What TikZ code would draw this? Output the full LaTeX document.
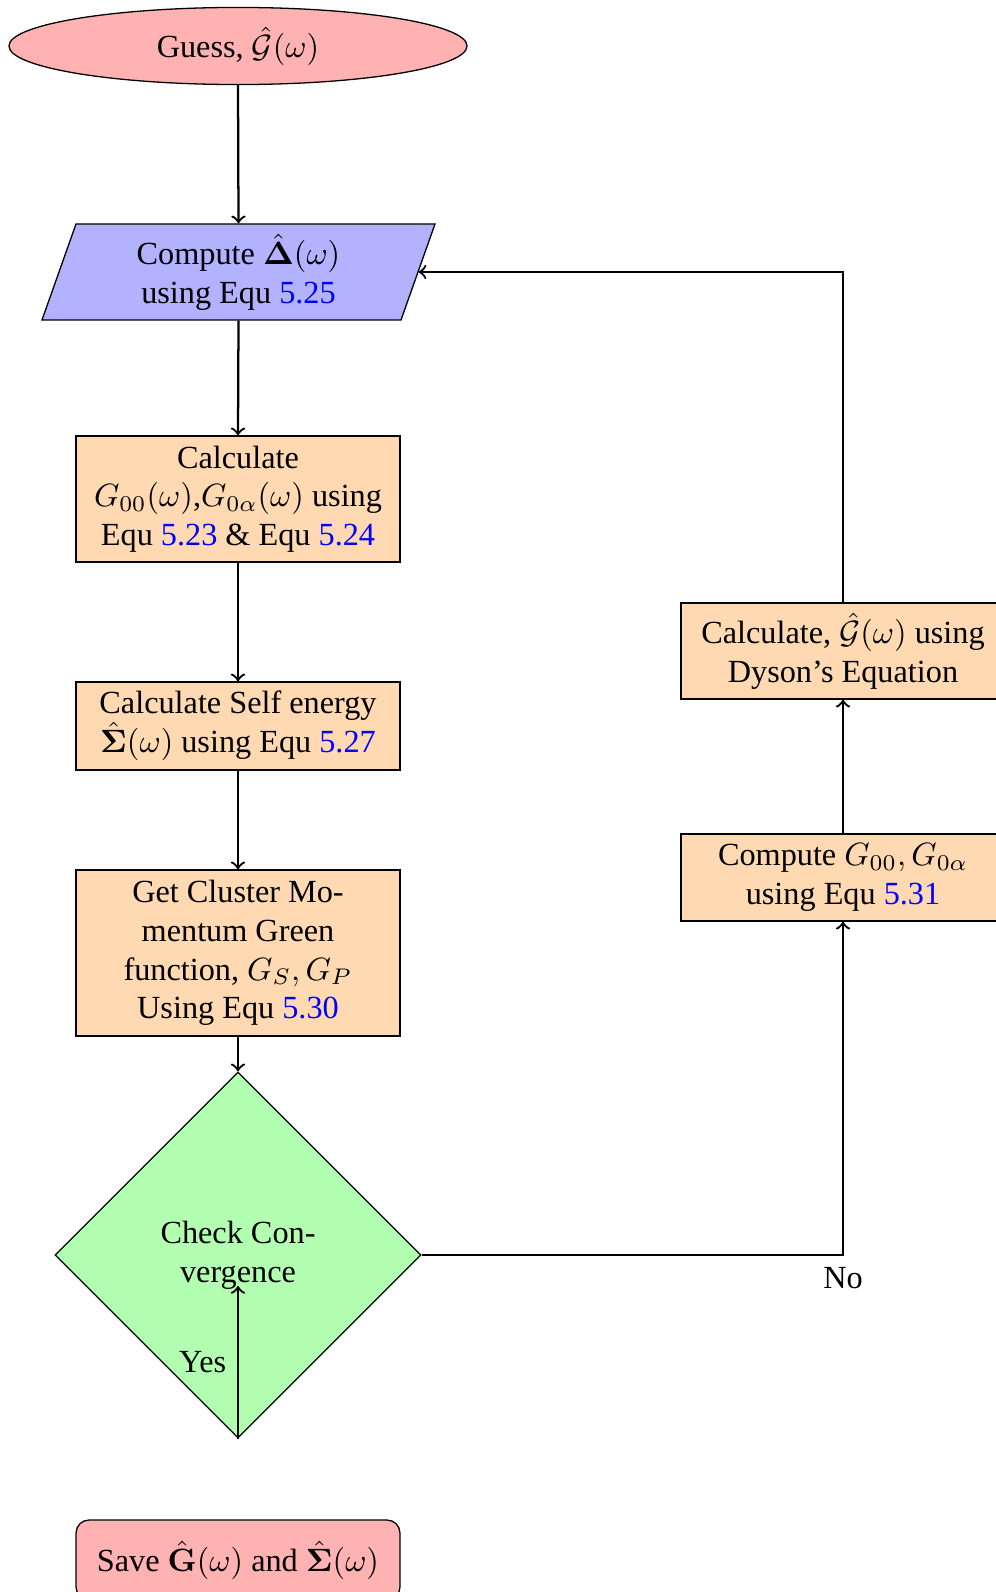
\documentclass[tikz,border=0pt]{standalone}
\usepackage{bm}
\usepackage[no-math]{fontspec}
\setmainfont{Liberation Serif}
\usetikzlibrary{shapes.geometric,calc}

% equation references, coloured as links
\newcommand\eqnum[1]{\textcolor{blue}{#1}}

\begin{document}
\begin{tikzpicture}[x=0.31pt,y=-0.31pt,
  proc/.style={rectangle, draw, line width=0.4pt, fill=orange!30,
    minimum width=100.4pt, align=center, inner sep=0pt},
  startstop/.style={ellipse, draw, line width=0.4pt, fill=red!30, inner sep=0pt},
  decision/.style={diamond, draw, line width=0.4pt, fill=green!30, aspect=1,
    minimum width=113.5pt, minimum height=113.5pt, inner sep=0pt, align=center},
  link/.style={->, line width=0.7pt},
  lbl/.style={inner sep=3.33pt}]

\useasboundingbox (0,0) rectangle (996,1592);

% start
\node[startstop, minimum width=142pt, minimum height=23.9pt] (guess) at (238,46)
  {Guess, $\hat{\mathcal{G}}(\omega)$};

% input/output parallelogram
\filldraw[fill=blue!30, line width=0.4pt]
  (76,224) -- (435,224) -- (401,320) -- (42,320) -- cycle;
\node[minimum width=111.3pt, minimum height=29.8pt, inner sep=0pt, align=center]
  (delta) at (238.5,272) {Compute $\hat{\bm{\Delta}}(\omega)$\\using Equ \eqnum{5.25}};

% main column
\node[proc, minimum height=39.1pt] (gloc) at (238,499)
  {Calculate\\$G_{00}(\omega)$,$G_{0\alpha}(\omega)$ using\\Equ \eqnum{5.23} \& Equ \eqnum{5.24}};
\node[proc, minimum height=27.3pt] (sigma) at (238,726)
  {Calculate Self energy\\$\hat{\bm{\Sigma}}(\omega)$ using Equ \eqnum{5.27}};
\node[proc, minimum height=51.5pt] (cluster) at (238,953)
  {Get Cluster Mo-\\mentum Green\\function, $G_S,G_P$\\Using Equ \eqnum{5.30}};
\node[decision] (decide) at (238,1255) {Check Con-\\vergence};
\node[proc, fill=red!30, rounded corners=4pt, minimum height=24.8pt] (save) at (238,1560)
  {Save $\hat{\mathbf{G}}(\omega)$ and $\hat{\bm{\Sigma}}(\omega)$};

% feedback column
\node[proc, minimum height=29.8pt] (dyson) at (843,651)
  {Calculate, $\hat{\mathcal{G}}(\omega)$ using\\Dyson's Equation};
\node[proc, minimum height=27pt] (compute) at (843,877.5)
  {Compute $G_{00},G_{0\alpha}$\\using Equ \eqnum{5.31}};

\coordinate (yesend) at (238,1286);

% connectors
\draw[link] (guess.south) -- (delta.north);
\draw[link] (delta.south) -- (gloc.north);
\draw[link] (gloc.south) -- (sigma.north);
\draw[link] (sigma.south) -- (cluster.north);
\draw[link] (cluster.south) -- (decide.north);
\draw[link] (decide.south) -- node[lbl, left] {Yes} (yesend);
\draw[link] (decide.east) -| node[lbl, below, pos=0.5] {No} (compute.south);
\draw[link] (compute.north) -- (dyson.south);
\draw[link] (dyson.north) |- (delta.east);

\end{tikzpicture}
\end{document}
